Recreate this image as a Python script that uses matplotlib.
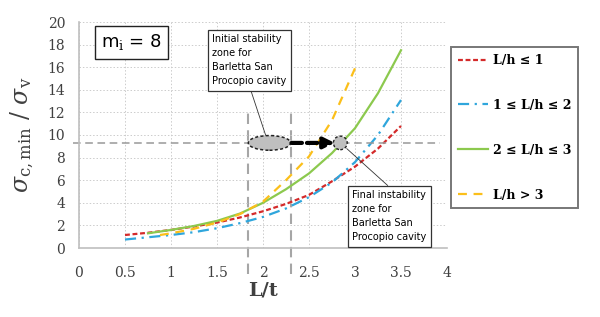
import matplotlib
matplotlib.use('Agg')
import matplotlib.pyplot as plt
from matplotlib.patches import Ellipse

# curve values
x_red = [0.5, 0.75, 1.0, 1.25, 1.5, 1.75, 2.0, 2.25, 2.5, 2.75, 3.0, 3.25, 3.5]
y_red = [1.15, 1.35, 1.6, 1.9, 2.25, 2.7, 3.25, 3.9, 4.7, 5.9, 7.2, 8.8, 10.8]

x_blue = [0.5, 0.75, 1.0, 1.25, 1.5, 1.75, 2.0, 2.25, 2.5, 2.75, 3.0, 3.25, 3.5]
y_blue = [0.75, 0.95, 1.15, 1.4, 1.75, 2.2, 2.75, 3.5, 4.5, 5.8, 7.6, 10.0, 13.1]

x_green = [0.75, 1.0, 1.25, 1.5, 1.75, 2.0, 2.25, 2.5, 2.75, 3.0, 3.25, 3.5]
y_green = [1.3, 1.6, 1.95, 2.4, 3.05, 4.0, 5.2, 6.6, 8.4, 10.6, 13.7, 17.5]

x_yellow = [0.88, 1.0, 1.25, 1.5, 1.75, 2.0, 2.25, 2.5, 2.75, 3.0]
y_yellow = [1.15, 1.3, 1.7, 2.25, 3.0, 4.1, 6.0, 8.1, 11.3, 15.9]

labels = ['L/h ≤ 1', '1 ≤ L/h ≤ 2', '2 ≤ L/h ≤ 3', 'L/h > 3']

# zone markers
level = 9.3
zone_left, zone_right = 1.84, 2.30
final_x = 2.84

plt.rcParams['mathtext.fontset'] = 'dejavuserif'

fig = plt.figure(figsize=(6, 3.17), dpi=100)
ax = fig.add_axes([79 / 600, 1 - 248 / 317, 368 / 600, 226 / 317])

ax.plot(x_red, y_red, color='#D42A2A', ls=(0, (2.2, 1.2)), lw=1.6, label=labels[0])
ax.plot(x_blue, y_blue, color='#2FA6DC', ls=(0, (5, 2.5, 1, 2.5)), lw=1.6, label=labels[1])
ax.plot(x_green, y_green, color='#8CC94E', ls='-', lw=1.6, label=labels[2])
ax.plot(x_yellow, y_yellow, color='#FBBF1A', ls=(0, (4, 3)), lw=1.6, label=labels[3])

ax.set_xlim(0, 4)
ax.set_ylim(0, 20)
ax.set_xticks([0, 0.5, 1, 1.5, 2, 2.5, 3, 3.5, 4])
ax.set_xticklabels(['0', '0.5', '1', '1.5', '2', '2.5', '3', '3.5', '4'])
ax.set_yticks(range(0, 21, 2))
ax.grid(True, color='#cccccc', ls=(0, (1.5, 2)), lw=0.7)
for s in ['top', 'right']:
    ax.spines[s].set_visible(False)
for s in ['left', 'bottom']:
    ax.spines[s].set_color('#bfbfbf')
    ax.spines[s].set_linewidth(1.2)
ax.tick_params(length=0, pad=10, colors='#404040')
for t in ax.get_xticklabels() + ax.get_yticklabels():
    t.set_family('DejaVu Serif')
    t.set_fontsize(10)
ax.tick_params(axis='x', pad=13)

ax.set_xlabel('L/t', family='DejaVu Serif', fontsize=14, fontweight='bold', color='#404040', labelpad=1)
ax.set_ylabel(r'$\sigma_{\mathrm{c,min}}\ /\ \sigma_{\mathrm{v}}$', fontsize=17, color='#404040', labelpad=8)

# reference lines
ax.axhline(level, xmin=-0.015, xmax=(440 - 79) / 368, color='#999999', ls=(0, (5, 3)), lw=1.1, clip_on=False)
for xv in [zone_left, zone_right]:
    ax.plot([xv, xv], [-2.3, 12.2], color='#a6a6a6', ls=(0, (5, 3)), lw=1.5, clip_on=False, zorder=1)

ax.add_patch(Ellipse((2.07, level), 0.46, 1.3, facecolor='#bfbfbf', edgecolor='#222222', ls=(0, (2, 1.5)), lw=1.1, zorder=5))
ax.add_patch(Ellipse((final_x, level), 0.15, 1.2, facecolor='#bfbfbf', edgecolor='#222222', ls=(0, (2, 1.5)), lw=1.0, zorder=5))
ax.annotate('', xy=(2.78, level), xytext=(2.31, level),
            arrowprops=dict(arrowstyle='-|>', color='black', lw=3, ls=(0, (2.5, 1.2)), mutation_scale=16, shrinkA=0, shrinkB=0),
            zorder=6)

box = dict(boxstyle='square,pad=0.45', facecolor='white', edgecolor='#333333', lw=0.9)
ax.annotate('Initial stability\nzone for\nBarletta San\nProcopio cavity', xy=(2.03, 9.95), xytext=(1.45, 18.9),
            fontsize=7, va='top', ha='left', linespacing=1.5, bbox=box, family='DejaVu Sans',
            arrowprops=dict(arrowstyle='-', color='#333333', lw=0.6, shrinkA=0, shrinkB=0,
                            relpos=(0.5, 0.0)))
ax.annotate('Final instability\nzone for\nBarletta San\nProcopio cavity', xy=(final_x + 0.07, level - 0.5), xytext=(2.97, 5.1),
            fontsize=7, va='top', ha='left', linespacing=1.5, bbox=box, family='DejaVu Sans',
            arrowprops=dict(arrowstyle='-', color='#333333', lw=0.6, shrinkA=0, shrinkB=0,
                            relpos=(0.55, 1.0)))

ax.text(0.24, 18.2, r'm$_{\mathrm{i}}$ = 8', fontsize=13, family='DejaVu Sans', va='center', ha='left',
        bbox=dict(boxstyle='square,pad=0.35', facecolor='white', edgecolor='#222222', lw=1.0))

leg = fig.legend(loc='upper left', bbox_to_anchor=(451 / 600, 1 - 47 / 317), borderaxespad=0,
                 frameon=True, fancybox=False,
                 handlelength=2.4, handletextpad=0.4, labelspacing=2.55, borderpad=0.55,
                 prop={'family': 'DejaVu Serif', 'weight': 'bold', 'size': 9})
leg.get_frame().set_edgecolor('#555555')
leg.get_frame().set_linewidth(1.4)

fig.savefig('out.png', dpi=100)
